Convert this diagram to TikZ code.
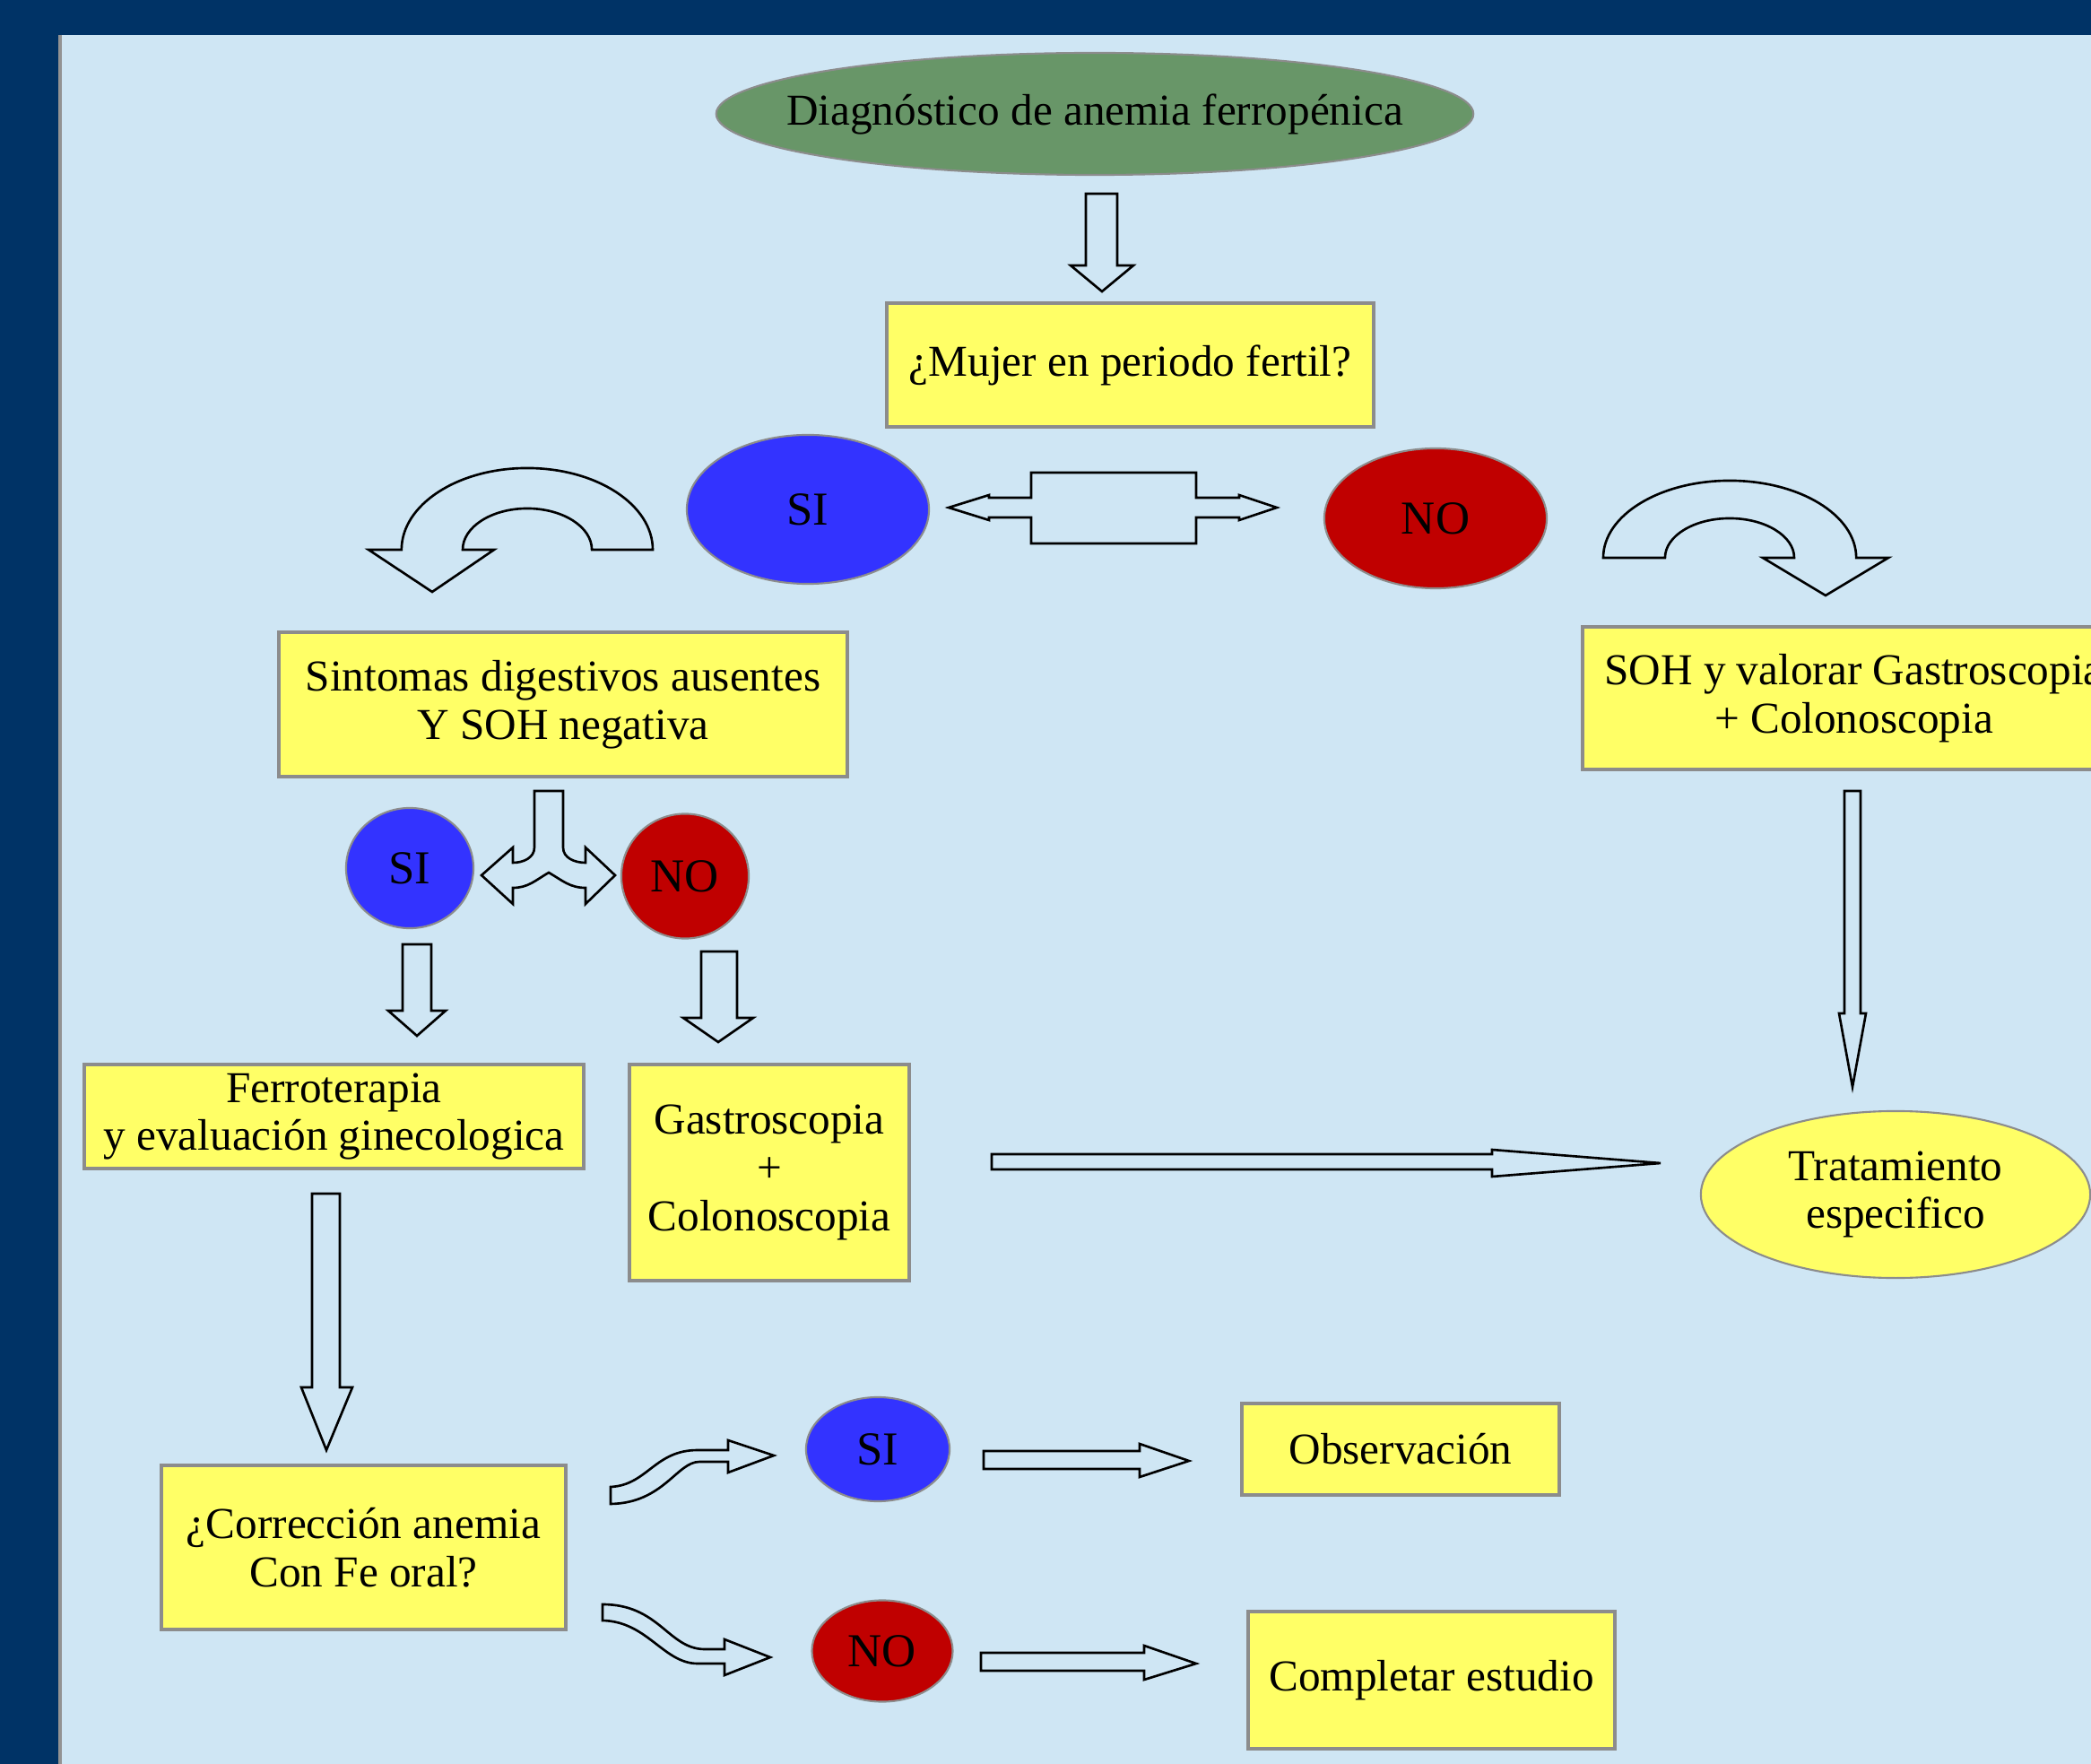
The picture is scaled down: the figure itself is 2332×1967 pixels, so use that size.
\documentclass[tikz,border=0pt]{standalone}
\usepackage{fontspec}
\setmainfont{Liberation Serif}
\usetikzlibrary{shapes.geometric}
\definecolor{frameblue}{RGB}{0,51,102}
\definecolor{panelblue}{RGB}{207,230,244}
\definecolor{boxyellow}{RGB}{255,255,102}
\definecolor{boxborder}{RGB}{140,140,140}
\definecolor{ovalgreen}{RGB}{104,150,104}
\definecolor{siblue}{RGB}{51,51,255}
\definecolor{nored}{RGB}{192,0,0}
\begin{document}
\begin{tikzpicture}[x=0.01cm,y=0.01cm,
  txt/.style={font=\fontsize{14}{15.3}\selectfont, align=center, text=black},
  ybox/.style={txt, rectangle, draw=boxborder, line width=1.1pt, fill=boxyellow, inner sep=0pt},
  oval/.style={txt, ellipse, draw=boxborder, line width=0.6pt, inner sep=0pt},
  sino/.style={oval, font=\fontsize{15}{16}\selectfont},
  blockarrow/.style={draw=black, fill=panelblue, line width=0.75pt, line join=miter}
]
\useasboundingbox (0,0) rectangle (2332,-1967);
\clip (0,0) rectangle (2332,-1967);
\fill[frameblue] (0,0) rectangle (2332,-1967);
\fill[panelblue] (65,-39) rectangle (2340,-1975);
\draw[gray!85, line width=1.2pt] (67,-39) -- (67,-1975);

% nodes
\node[oval, fill=ovalgreen, minimum width=8.44cm, minimum height=1.36cm] (diag) at (1221,-127) {\makebox[0pt]{Diagnóstico de anemia ferropénica}};
\node[ybox, minimum width=5.43cm, minimum height=1.38cm] (mujer) at (1260.5,-407) {¿Mujer en periodo fertil?};
\node[sino, fill=siblue, minimum width=2.70cm, minimum height=1.66cm] (si1) at (901,-568) {SI};
\node[sino, fill=nored, minimum width=2.48cm, minimum height=1.56cm] (no1) at (1601,-578) {NO};
\node[ybox, minimum width=6.34cm, minimum height=1.61cm] (sint) at (628,-785.5) {Sintomas digestivos ausentes\\Y SOH negativa};
\node[ybox, minimum width=6.05cm, minimum height=1.59cm] (soh) at (2067.5,-778.5) {SOH y valorar Gastroscopia\\+ Colonoscopia};
\node[sino, fill=siblue, minimum width=1.42cm, minimum height=1.34cm] (si2) at (457,-968) {SI};
\node[sino, fill=nored, minimum width=1.42cm, minimum height=1.39cm] (no2) at (764,-977) {NO};
\node[ybox, minimum width=5.57cm, minimum height=1.16cm] (ferro) at (372.5,-1245) {Ferroterapia\\y evaluación ginecologica};
\node[ybox, minimum width=3.12cm, minimum height=2.41cm] (gastro) at (858,-1307.5) {Gastroscopia\\+\\Colonoscopia};
\node[oval, fill=boxyellow, minimum width=4.34cm, minimum height=1.86cm] (trat) at (2114,-1332) {Tratamiento\\especifico};
\node[ybox, minimum width=4.51cm, minimum height=1.83cm] (correc) at (405.5,-1725.5) {¿Corrección anemia\\Con Fe oral?};
\node[sino, fill=siblue, minimum width=1.60cm, minimum height=1.16cm] (si3) at (979,-1616) {SI};
\node[sino, fill=nored, minimum width=1.57cm, minimum height=1.13cm] (no3) at (984,-1841) {NO};
\node[ybox, minimum width=3.54cm, minimum height=1.02cm] (obs) at (1562,-1616) {Observación};
\node[ybox, minimum width=4.09cm, minimum height=1.53cm] (compl) at (1596.5,-1873.5) {Completar estudio};

% block arrows
% diag -> mujer
\draw[blockarrow] (1211,-216) -- (1246,-216) -- (1246,-296) -- (1264,-296) -- (1229,-325) -- (1194,-296) -- (1211,-296) -- cycle;
% double arrow si1 <-> no1
\draw[blockarrow] (1150,-527) -- (1334,-527) -- (1334,-555) -- (1382,-555) -- (1382,-552) -- (1424,-566) -- (1382,-580) -- (1382,-577) -- (1334,-577) -- (1334,-606) -- (1150,-606) -- (1150,-577) -- (1103,-577) -- (1103,-580) -- (1058,-566) -- (1103,-552) -- (1103,-555) -- (1150,-555) -- cycle;
% left U-turn arrow
\draw[blockarrow] (728,-613) arc[start angle=0,end angle=180,x radius=1.40cm,y radius=0.91cm] -- (411,-613) -- (482,-660) -- (551,-613) -- (516,-613) arc[start angle=180,end angle=0,x radius=0.72cm,y radius=0.46cm] -- cycle;
% right U-turn arrow
\draw[blockarrow] (1788,-622) arc[start angle=180,end angle=0,x radius=1.41cm,y radius=0.86cm] -- (2106,-622) -- (2036,-664) -- (1966,-622) -- (2001,-622) arc[start angle=0,end angle=180,x radius=0.72cm,y radius=0.44cm] -- cycle;
% split arrow under sint
\draw[blockarrow] (596,-882) -- (628,-882) -- (628,-945) to[out=-90,in=180] (653,-962) -- (653,-945) -- (686,-976) -- (653,-1008) -- (653,-990) to[out=180,in=-30] (612,-973) to[out=-150,in=0] (572,-990) -- (572,-1008) -- (537,-976) -- (572,-945) -- (572,-962) to[out=0,in=-90] (596,-945) -- cycle;
% si2 -> ferro
\draw[blockarrow] (449,-1053) -- (481,-1053) -- (481,-1127) -- (497,-1127) -- (465,-1155) -- (433,-1127) -- (449,-1127) -- cycle;
% no2 -> gastro
\draw[blockarrow] (782,-1061) -- (822,-1061) -- (822,-1135) -- (840,-1135) -- (801,-1162) -- (762,-1135) -- (782,-1135) -- cycle;
% gastro -> trat
\draw[blockarrow] (1106,-1287) -- (1664,-1287) -- (1664,-1282) -- (1852,-1297) -- (1664,-1312) -- (1664,-1304) -- (1106,-1304) -- cycle;
% soh -> trat
\draw[blockarrow] (2057,-882) -- (2075,-882) -- (2075,-1130) -- (2081,-1130) -- (2066,-1212) -- (2051,-1130) -- (2057,-1130) -- cycle;
% ferro -> correc
\draw[blockarrow] (348,-1331) -- (379,-1331) -- (379,-1547) -- (393,-1547) -- (364,-1617) -- (336,-1547) -- (348,-1547) -- cycle;
% wavy up arrow correc -> si3
\draw[blockarrow] (681,-1658) .. controls (722,-1656) and (730,-1617) .. (778,-1617) -- (812,-1617) -- (812,-1606) -- (863,-1623) -- (812,-1642) -- (812,-1630) -- (780,-1630) .. controls (755,-1630) and (740,-1676) .. (681,-1677) -- cycle;
% wavy down arrow correc -> no3
\draw[blockarrow] (672,-1789) .. controls (735,-1789) and (745,-1838) .. (785,-1839) -- (808,-1839) -- (808,-1828) -- (859,-1848) -- (808,-1868) -- (808,-1855) -- (778,-1855) .. controls (740,-1855) and (722,-1808) .. (672,-1807) -- cycle;
% si3 -> obs
\draw[blockarrow] (1097,-1618) -- (1271,-1618) -- (1271,-1610) -- (1326,-1629) -- (1271,-1647) -- (1271,-1638) -- (1097,-1638) -- cycle;
% no3 -> compl
\draw[blockarrow] (1094,-1843) -- (1276,-1843) -- (1276,-1835) -- (1334,-1855) -- (1276,-1873) -- (1276,-1863) -- (1094,-1863) -- cycle;
\end{tikzpicture}
\end{document}
